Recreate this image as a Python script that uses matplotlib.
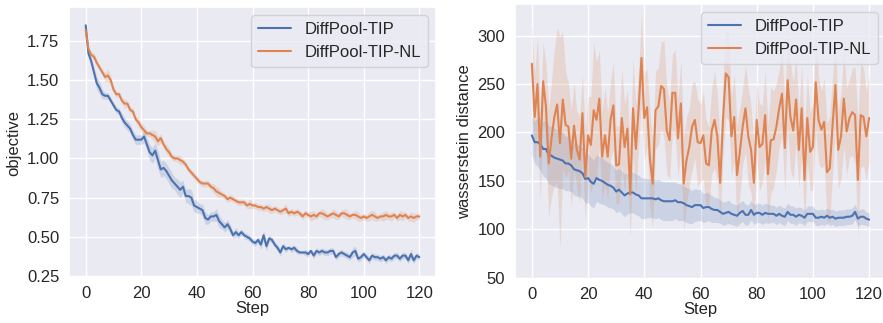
import matplotlib
matplotlib.use("Agg")
import matplotlib.pyplot as plt
import numpy as np
import seaborn as sns

sns.set_theme(style="darkgrid")
plt.rcParams['font.family'] = ['Liberation Sans', 'DejaVu Sans']

steps = np.arange(121)
labels = ['DiffPool-TIP', 'DiffPool-TIP-NL']

# objective (left)
obj_tip = [1.85, 1.67, 1.62, 1.55, 1.48, 1.45, 1.41, 1.40, 1.40, 1.37,
           1.34, 1.31, 1.30, 1.26, 1.23, 1.21, 1.19, 1.15, 1.12, 1.12,
           1.12, 1.14, 1.09, 1.04, 1.02, 1.05, 0.99, 0.93, 0.94, 0.92,
           0.89, 0.86, 0.84, 0.82, 0.80, 0.82, 0.76, 0.76, 0.75, 0.70,
           0.69, 0.68, 0.67, 0.62, 0.61, 0.63, 0.63, 0.64, 0.60, 0.58,
           0.56, 0.58, 0.55, 0.51, 0.53, 0.51, 0.53, 0.51, 0.50, 0.49,
           0.47, 0.46, 0.48, 0.45, 0.51, 0.44, 0.49, 0.48, 0.45, 0.43,
           0.40, 0.44, 0.42, 0.43, 0.42, 0.43, 0.41, 0.40, 0.40, 0.40,
           0.39, 0.41, 0.38, 0.41, 0.40, 0.41, 0.40, 0.40, 0.41, 0.41,
           0.37, 0.39, 0.40, 0.39, 0.38, 0.37, 0.40, 0.41, 0.36, 0.37,
           0.39, 0.37, 0.35, 0.38, 0.37, 0.37, 0.36, 0.37, 0.35, 0.37,
           0.36, 0.38, 0.38, 0.36, 0.38, 0.38, 0.35, 0.39, 0.35, 0.38, 0.37]
obj_tip_sd = [0.01, 0.01, 0.02, 0.03, 0.04, 0.04, 0.03, 0.02, 0.02, 0.02,
              0.02, 0.02, 0.02, 0.03, 0.03, 0.03, 0.03, 0.03, 0.03, 0.03,
              0.03, 0.04, 0.04, 0.05, 0.05, 0.05, 0.06, 0.05, 0.05, 0.05,
              0.05, 0.05, 0.04, 0.05, 0.05, 0.04, 0.04, 0.05, 0.05, 0.04,
              0.04, 0.03, 0.04, 0.04, 0.03, 0.03, 0.03, 0.04, 0.04, 0.03,
              0.03, 0.03, 0.03, 0.02, 0.03, 0.02, 0.02, 0.02, 0.02, 0.02,
              0.02, 0.02, 0.02, 0.03, 0.03, 0.03, 0.02, 0.02, 0.02, 0.02,
              0.02, 0.02, 0.02, 0.01, 0.02, 0.02, 0.02, 0.01, 0.01, 0.02,
              0.02, 0.01, 0.02, 0.02, 0.02, 0.02, 0.02, 0.02, 0.02, 0.02,
              0.02, 0.02, 0.02, 0.02, 0.02, 0.02, 0.03, 0.03, 0.02, 0.02,
              0.02, 0.02, 0.02, 0.02, 0.02, 0.02, 0.02, 0.02, 0.02, 0.02,
              0.02, 0.02, 0.02, 0.02, 0.02, 0.02, 0.02, 0.03, 0.02, 0.02, 0.02]
obj_nl = [1.82, 1.70, 1.66, 1.65, 1.61, 1.58, 1.55, 1.52, 1.53, 1.50,
          1.44, 1.41, 1.41, 1.37, 1.35, 1.35, 1.31, 1.30, 1.25, 1.23,
          1.20, 1.18, 1.16, 1.16, 1.15, 1.14, 1.11, 1.13, 1.09, 1.06,
          1.04, 1.01, 1.00, 1.00, 0.99, 0.98, 0.96, 0.93, 0.91, 0.89,
          0.87, 0.85, 0.84, 0.84, 0.84, 0.82, 0.81, 0.79, 0.78, 0.77,
          0.76, 0.74, 0.75, 0.74, 0.73, 0.72, 0.72, 0.72, 0.70, 0.71,
          0.70, 0.70, 0.69, 0.69, 0.68, 0.69, 0.68, 0.67, 0.68, 0.67,
          0.66, 0.67, 0.68, 0.65, 0.66, 0.65, 0.66, 0.65, 0.63, 0.65,
          0.64, 0.63, 0.64, 0.63, 0.65, 0.65, 0.64, 0.63, 0.64, 0.65,
          0.64, 0.63, 0.65, 0.65, 0.64, 0.63, 0.64, 0.64, 0.63, 0.62,
          0.63, 0.62, 0.63, 0.64, 0.63, 0.62, 0.63, 0.63, 0.64, 0.63,
          0.63, 0.64, 0.62, 0.64, 0.63, 0.64, 0.62, 0.63, 0.62, 0.63, 0.63]
obj_nl_sd = [0.01, 0.01, 0.02, 0.02, 0.02, 0.02, 0.02, 0.03, 0.04, 0.03,
             0.02, 0.02, 0.02, 0.02, 0.03, 0.02, 0.02, 0.02, 0.02, 0.03,
             0.03, 0.03, 0.02, 0.02, 0.03, 0.04, 0.03, 0.03, 0.02, 0.03,
             0.03, 0.02, 0.02, 0.02, 0.03, 0.02, 0.02, 0.02, 0.02, 0.02,
             0.02, 0.02, 0.02, 0.02, 0.02, 0.02, 0.03, 0.03, 0.03, 0.02,
             0.02, 0.02, 0.02, 0.02, 0.02, 0.02, 0.02, 0.02, 0.02, 0.03,
             0.02, 0.02, 0.02, 0.02, 0.02, 0.02, 0.03, 0.02, 0.02, 0.02,
             0.02, 0.02, 0.03, 0.02, 0.02, 0.02, 0.02, 0.02, 0.02, 0.02,
             0.02, 0.03, 0.03, 0.02, 0.02, 0.03, 0.03, 0.02, 0.02, 0.03,
             0.03, 0.02, 0.02, 0.03, 0.03, 0.02, 0.02, 0.03, 0.03, 0.02,
             0.02, 0.02, 0.03, 0.03, 0.03, 0.02, 0.02, 0.03, 0.03, 0.02,
             0.03, 0.02, 0.02, 0.03, 0.03, 0.02, 0.02, 0.03, 0.03, 0.02, 0.02]

# wasserstein distance (right)
wd_tip = [197, 190, 190, 188, 183, 183, 177, 176, 174, 173,
          172, 171, 168, 168, 166, 162, 161, 160, 158, 152,
          153, 149, 147, 153, 151, 150, 148, 146, 145, 143,
          139, 141, 138, 135, 137, 138, 138, 136, 135, 132,
          132, 132, 132, 132, 131, 132, 130, 129, 129, 129,
          129, 130, 128, 128, 127, 125, 124, 123, 125, 125,
          125, 122, 123, 123, 121, 120, 120, 118, 116, 117,
          118, 116, 115, 114, 117, 119, 115, 115, 120, 115,
          117, 117, 115, 117, 116, 116, 116, 114, 116, 114,
          113, 118, 115, 115, 113, 115, 114, 112, 116, 116,
          116, 112, 112, 113, 112, 114, 112, 113, 111, 112,
          112, 112, 113, 113, 114, 118, 111, 113, 113, 111, 110]
wd_tip_sd = [20, 22, 25, 27, 28, 30, 30, 30, 30, 30,
             30, 29, 28, 28, 27, 27, 27, 26, 26, 25,
             25, 25, 25, 24, 24, 24, 23, 23, 23, 22,
             22, 22, 22, 22, 21, 21, 21, 21, 21, 21,
             21, 20, 20, 20, 20, 20, 20, 20, 20, 20,
             20, 19, 19, 19, 18, 18, 18, 17, 17, 16,
             16, 15, 15, 14, 14, 13, 13, 12, 12, 12,
             12, 11, 11, 11, 11, 11, 11, 10, 10, 10,
             10, 10, 10, 10, 10, 9, 9, 9, 9, 9,
             9, 9, 9, 9, 9, 8, 8, 8, 8, 8,
             8, 8, 8, 8, 8, 8, 8, 8, 8, 8,
             8, 8, 8, 8, 8, 8, 8, 8, 8, 7, 7]
wd_nl = [271, 216, 250, 175, 253, 227, 168, 194, 216, 229,
         189, 234, 208, 206, 173, 207, 182, 172, 220, 154,
         197, 187, 223, 213, 235, 175, 197, 175, 213, 228,
         166, 167, 215, 185, 204, 136, 225, 183, 225, 277,
         215, 226, 173, 147, 223, 227, 248, 245, 202, 192,
         241, 241, 194, 230, 147, 171, 185, 206, 213, 190,
         189, 197, 168, 166, 202, 213, 196, 148, 213, 261,
         257, 196, 216, 156, 180, 206, 225, 196, 182, 148,
         213, 185, 188, 218, 157, 192, 193, 206, 225, 240,
         184, 254, 216, 202, 234, 182, 225, 151, 215, 180,
         185, 252, 213, 203, 211, 159, 163, 208, 249, 182,
         196, 235, 201, 215, 221, 218, 151, 218, 216, 196, 215]
wd_nl_sd = [40, 45, 50, 45, 40, 45, 55, 60, 70, 80,
            110, 70, 55, 45, 50, 45, 40, 45, 40, 45,
            40, 50, 70, 60, 50, 45, 50, 45, 40, 45,
            40, 40, 50, 45, 40, 45, 50, 45, 40, 45,
            45, 40, 50, 45, 40, 40, 45, 50, 45, 40,
            40, 45, 40, 45, 50, 45, 40, 45, 40, 45,
            40, 45, 45, 40, 45, 50, 45, 40, 40, 45,
            45, 40, 45, 50, 45, 40, 45, 50, 45, 40,
            40, 45, 40, 45, 50, 55, 50, 45, 40, 45,
            45, 50, 55, 50, 45, 40, 45, 50, 45, 40,
            45, 50, 45, 40, 45, 50, 55, 50, 45, 40,
            45, 50, 45, 40, 45, 50, 60, 55, 50, 45, 45]

FS = 12
blue, orange = sns.color_palette("deep")[0], sns.color_palette("deep")[1]

fig = plt.figure(figsize=(8.83, 3.23), dpi=100)
ax1 = fig.add_axes([69 / 883, 1 - 278 / 323, 367 / 883, 271 / 323])
ax2 = fig.add_axes([515 / 883, 1 - 279 / 323, 371 / 883, 275 / 323])

def draw(ax, series, ylabel, ylab_x):
    for (m, sd), c, lab in zip(series, [blue, orange], labels):
        m = np.array(m, dtype=float)
        sd = np.array(sd, dtype=float)
        ax.plot(steps, m, color=c, lw=1.5, label=lab)
        ax.fill_between(steps, m - sd, m + sd, color=c, alpha=0.2, lw=0)
    ax.set_xlabel('Step', fontsize=FS, labelpad=0)
    ax.set_ylabel(ylabel, fontsize=FS)
    ax.yaxis.set_label_coords(ylab_x, 0.5)
    ax.tick_params(axis='y', labelsize=FS, length=0, pad=7)
    ax.tick_params(axis='x', labelsize=FS, length=0, pad=6)
    ax.set_xticks([0, 20, 40, 60, 80, 100, 120])
    ax.set_xlim(-6, 126)
    ax.legend(loc='upper right', fontsize=FS)

draw(ax1, [(obj_tip, obj_tip_sd), (obj_nl, obj_nl_sd)], 'objective', -0.131)
ax1.set_ylim(0.237, 1.967)
ax1.set_yticks([0.25, 0.5, 0.75, 1.0, 1.25, 1.5, 1.75])

draw(ax2, [(wd_tip, wd_tip_sd), (wd_nl, wd_nl_sd)], 'wasserstein distance', -0.116)
ax2.set_ylim(48.7, 332.7)
ax2.set_yticks([50, 100, 150, 200, 250, 300])

fig.savefig('out.png', dpi=100)
